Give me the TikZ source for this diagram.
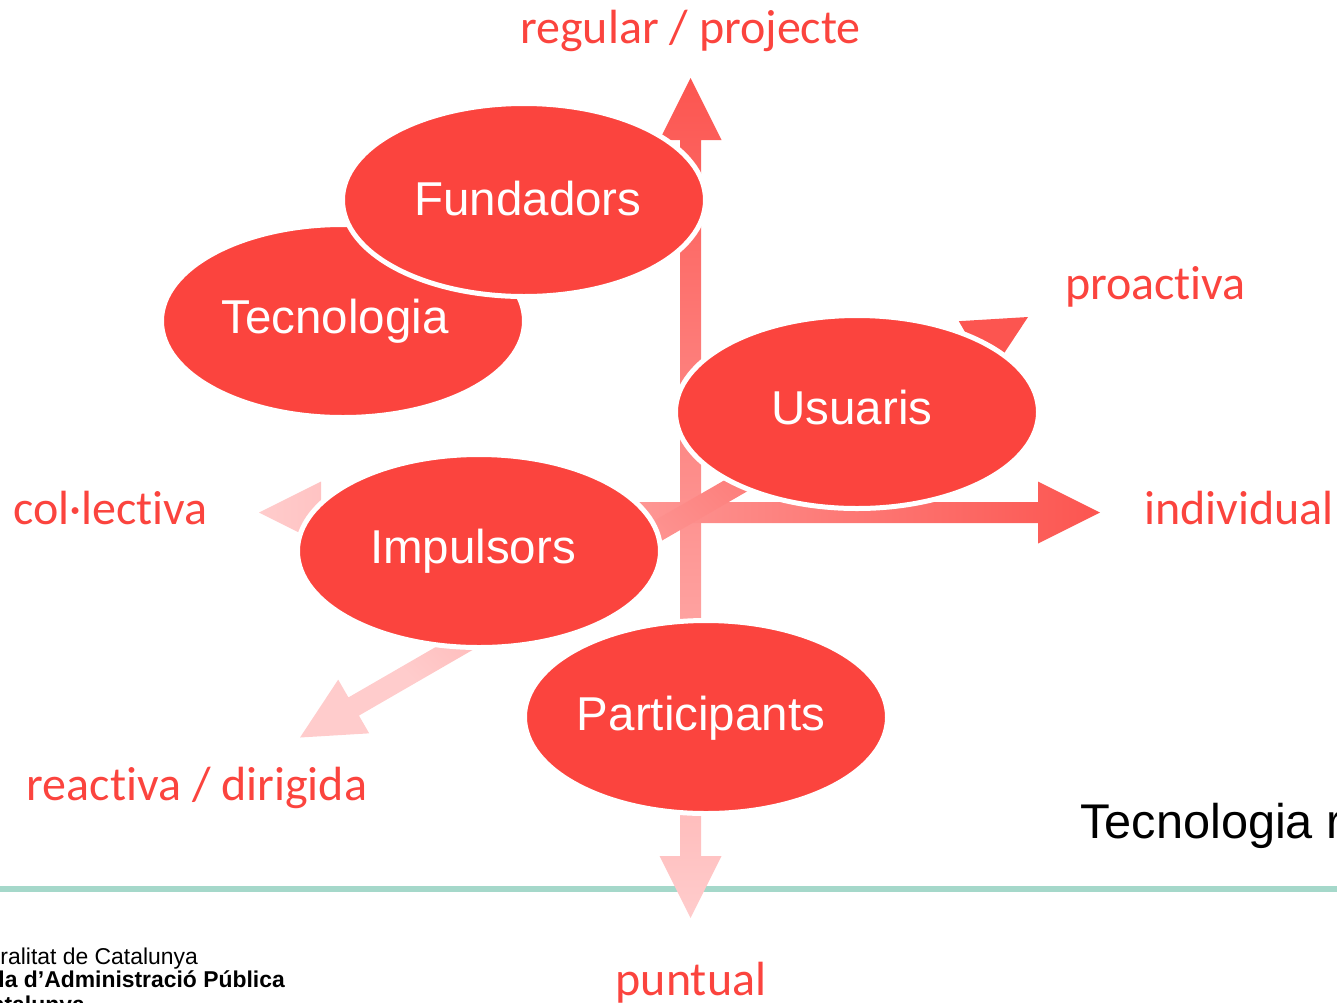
\documentclass[tikz,border=0pt]{standalone}
\usepackage{fontspec}
\setmainfont{Liberation Sans}
\newfontfamily\axisfont[Ligatures=CommonOff]{Carlito}
\usetikzlibrary{shapes.geometric,calc}
\definecolor{blobred}{HTML}{FB443E}
\definecolor{tipred}{HTML}{FC5550}
\definecolor{tippink}{HTML}{FFCCCC}
\definecolor{rulegreen}{HTML}{A5D8CA}
\tikzset{
  blob/.style={ellipse,fill=blobred,draw=white,line width=5pt,inner sep=0pt,outer sep=0pt,minimum width=363pt,minimum height=193pt},
  blobtext/.style={text=white,font=\fontsize{47.5}{50}\selectfont,inner sep=0pt},
  axislabel/.style={text=blobred,font=\axisfont\fontsize{48}{52}\selectfont,inner sep=0pt},
  logotext/.style={anchor=base east,inner sep=0pt,font=\fontsize{22.9}{25}\selectfont},
  logobold/.style={anchor=base east,inner sep=0pt,font=\bfseries\fontsize{22.9}{25}\selectfont},
  bandarrow/.style={to path={
    -- ($(\tikztostart)!62pt!(\tikztotarget)!31pt!90:(\tikztotarget)$)
    -- ($(\tikztostart)!62pt!(\tikztotarget)!10.5pt!90:(\tikztotarget)$)
    -- ($(\tikztotarget)!62pt!(\tikztostart)!10.5pt!-90:(\tikztostart)$)
    -- ($(\tikztotarget)!62pt!(\tikztostart)!31pt!-90:(\tikztostart)$)
    -- (\tikztotarget)
    -- ($(\tikztotarget)!62pt!(\tikztostart)!31pt!90:(\tikztostart)$)
    -- ($(\tikztotarget)!62pt!(\tikztostart)!10.5pt!90:(\tikztostart)$)
    -- ($(\tikztostart)!62pt!(\tikztotarget)!10.5pt!-90:(\tikztotarget)$)
    -- ($(\tikztostart)!62pt!(\tikztotarget)!31pt!-90:(\tikztotarget)$)
    -- cycle}}
}
\begin{document}
\begin{tikzpicture}[x=1pt,y=-1pt]
  \useasboundingbox (0,0) rectangle (1337,1002);
  % rule
  \coordinate (ruleL) at (0,889);
  \coordinate (ruleR) at (1337,889);
  \draw[rulegreen,line width=6pt] (ruleL) -- (ruleR);
  % axis ends
  \coordinate (regularTip) at (690.5,78);
  \coordinate (puntualTip) at (690.5,918);
  \coordinate (collectivaTip) at (259,512.5);
  \coordinate (individualTip) at (1100,512.5);
  \coordinate (reactivaTip) at (300,737.5);
  \coordinate (proactivaTip) at (1028,317);
  \shade[bandarrow,top color=tipred,bottom color=tippink] (puntualTip) to (regularTip);
  \shade[bandarrow,left color=tippink,right color=tipred] (collectivaTip) to (individualTip);
  \shade[bandarrow,left color=tippink,right color=tipred,shading angle=135] (reactivaTip) to (proactivaTip);
  % ellipses
  \node (tecnologia) [blob,label={[blobtext,name=tecnologiaText,xshift=-8pt,yshift=0pt]center:Tecnologia}] at (343,321) {};
  \node (fundadors) [blob,label={[blobtext,name=fundadorsText,xshift=4pt,yshift=1pt]center:Fundadors}] at (524,200) {};
  \node (usuaris) [blob,label={[blobtext,name=usuarisText,xshift=-5pt,yshift=4pt]center:Usuaris}] at (857,412) {};
  \node (impulsors) [blob,label={[blobtext,name=impulsorsText,xshift=-6pt,yshift=0pt]center:Impulsors}] at (479,551) {};
  \node (participants) [blob,label={[blobtext,name=participantsText,xshift=-5pt,yshift=-1pt]center:Participants}] at (706,717) {};
  % axis labels
  \node (regular) [axislabel] at (690.5,31) {regular / projecte};
  \node (proactiva) [axislabel] at (1155.5,287) {proactiva};
  \node (collectiva) [axislabel] at (110.5,508) {col·lectiva};
  \node (individual) [axislabel] at (1239,508) {individual};
  \node (reactiva) [axislabel] at (197,788) {reactiva / dirigida};
  \node (puntual) [axislabel] at (691,983) {puntual};
  % clipped texts
  \node (tecnoNote) [anchor=west,inner sep=0pt,font=\fontsize{48.7}{52}\selectfont] at (1080,826) {Tecnologia r};
  \node (logoA) [logotext] at (198,964) {ralitat de Catalunya};
  \node (logoB) [logobold] at (285,987) {la d’Administració Pública};
  \node (logoC) [logobold] at (85,1012) {atalunya};
\end{tikzpicture}
\end{document}
